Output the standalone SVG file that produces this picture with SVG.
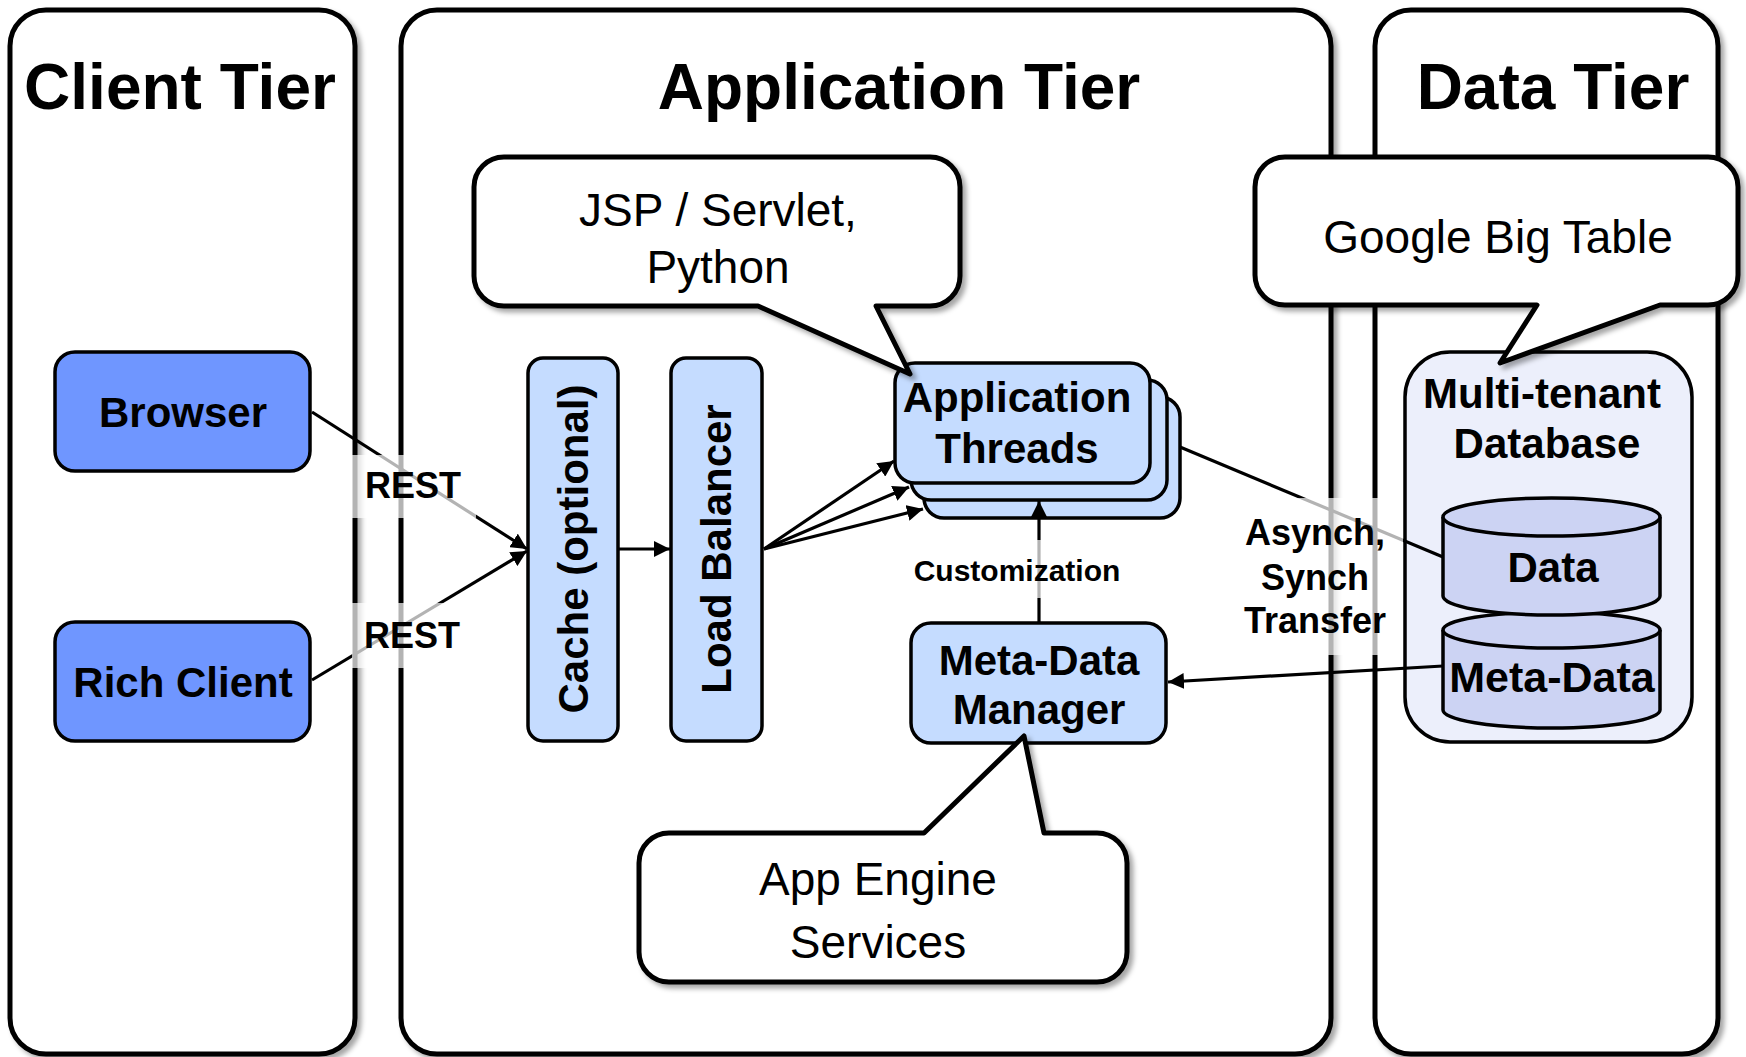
<svg xmlns="http://www.w3.org/2000/svg" width="1746" height="1057" viewBox="0 0 1746 1057">
<defs>
<filter id="sh" x="-10%" y="-10%" width="120%" height="120%">
<feDropShadow dx="4" dy="4" stdDeviation="2.5" flood-color="#000" flood-opacity="0.35"/>
</filter>
<marker id="ah" viewBox="0 0 10 10" refX="10" refY="5" markerWidth="5" markerHeight="5" orient="auto">
<path d="M0,0 L10,5 L0,10 z" fill="#000"/>
</marker>
<style>
.panel{fill:#fff;stroke:#000;stroke-width:5;filter:url(#sh)}
.callout{fill:#fff;stroke:#000;stroke-width:5;stroke-linejoin:round;filter:url(#sh)}
.node{stroke:#000;stroke-width:3.5}
.blue{fill:#6f96ff}
.lb{fill:#c5dcff}
.db{fill:#eceffb}
.cyl{fill:#ccd3f3;stroke:#000;stroke-width:3.5}
text{font-family:"Liberation Sans",Arial,sans-serif;fill:#000;text-anchor:middle}
.title{font-size:64px;font-weight:bold}
.nt{font-size:42px;font-weight:bold}
.ct{font-size:46px}
.lbl{font-size:36px;font-weight:bold}
.sm{font-size:30px;font-weight:bold}
.conn{stroke:#000;stroke-width:3.2;fill:none}
.lbg{fill:#fff;fill-opacity:0.7}
</style>
</defs>

<g id="client-tier">
<rect class="panel" x="10" y="10" width="345" height="1044" rx="36"/>
<text class="title" x="180" y="109">Client Tier</text>
</g>
<g id="application-tier">
<rect class="panel" x="401" y="10" width="930" height="1044" rx="36"/>
<text class="title" x="899" y="109">Application Tier</text>
</g>
<g id="data-tier">
<rect class="panel" x="1375" y="10" width="343" height="1044" rx="36"/>
<text class="title" x="1553" y="109">Data Tier</text>
</g>

<g id="browser">
<rect class="node blue" x="55" y="352" width="255" height="119" rx="20"/>
<text class="nt" x="183" y="427">Browser</text>
</g>
<g id="rich-client">
<rect class="node blue" x="55" y="622" width="255" height="119" rx="20"/>
<text class="nt" x="183" y="697">Rich Client</text>
</g>
<g id="cache">
<rect class="node lb" x="528" y="358" width="90" height="383" rx="15"/>
<text class="nt" transform="translate(588,549) rotate(-90)">Cache (optional)</text>
</g>
<g id="load-balancer">
<rect class="node lb" x="671" y="358" width="91" height="383" rx="15"/>
<text class="nt" transform="translate(731,549) rotate(-90)">Load Balancer</text>
</g>
<g id="application-threads">
<rect class="node lb" x="924" y="397" width="256" height="121" rx="20"/>
<rect class="node lb" x="911" y="380" width="256" height="120" rx="20"/>
<rect class="node lb" x="895" y="363" width="255" height="120" rx="20"/>
<text class="nt" x="1017" y="412">Application</text>
<text class="nt" x="1017" y="463">Threads</text>
</g>
<g id="meta-data-manager">
<rect class="node lb" x="911" y="623" width="255" height="120" rx="20"/>
<text class="nt" x="1039" y="675">Meta-Data</text>
<text class="nt" x="1039" y="724">Manager</text>
</g>
<g id="multi-tenant-database">
<rect class="node db" x="1405" y="352" width="287" height="390" rx="45"/>
<text class="nt" x="1542" y="408">Multi-tenant</text>
<text class="nt" x="1547" y="458">Database</text>
</g>
<g id="meta-data-store">
<path class="cyl" d="M1443 630 A108.5 18 0 0 1 1660 630 V710 A108.5 18 0 0 1 1443 710 Z"/>
<path class="cyl" fill="none" d="M1443 630 A108.5 18 0 0 0 1660 630"/>
<text class="nt" x="1552" y="692" style="font-size:43px">Meta-Data</text>
</g>
<g id="data-store">
<path class="cyl" d="M1443 517 A108.5 19 0 0 1 1660 517 V596 A108.5 19 0 0 1 1443 596 Z"/>
<path class="cyl" d="M1443 517 A108.5 19 0 0 0 1660 517"/>
<text class="nt" x="1553" y="582">Data</text>
</g>

<g id="connectors">
<line class="conn" x1="312" y1="412" x2="527" y2="549" marker-end="url(#ah)"/>
<line class="conn" x1="312" y1="680" x2="527" y2="551" marker-end="url(#ah)"/>
<line class="conn" x1="618" y1="549" x2="670" y2="549" marker-end="url(#ah)"/>
<line class="conn" x1="764" y1="549" x2="894" y2="461" marker-end="url(#ah)"/>
<line class="conn" x1="764" y1="549" x2="909" y2="487" marker-end="url(#ah)"/>
<line class="conn" x1="764" y1="549" x2="923" y2="509" marker-end="url(#ah)"/>
<line class="conn" x1="1039" y1="623" x2="1039" y2="501" marker-end="url(#ah)"/>
<line class="conn" x1="1180" y1="447" x2="1443" y2="557"/>
<line class="conn" x1="1443" y1="666" x2="1168" y2="682" marker-end="url(#ah)"/>
<rect class="lbg" x="352" y="455" width="124" height="63"/>
<text class="lbl" x="413" y="498">REST</text>
<rect class="lbg" x="352" y="603" width="124" height="65"/>
<text class="lbl" x="412" y="648">REST</text>
<rect class="lbg" x="900" y="540" width="234" height="58"/>
<text class="sm" x="1017" y="581">Customization</text>
<rect class="lbg" x="1227" y="498" width="176" height="157"/>
<text class="lbl" x="1315" y="545">Asynch,</text>
<text class="lbl" x="1315" y="590">Synch</text>
<text class="lbl" x="1315" y="633">Transfer</text>
</g>

<g id="callout-jsp">
<path class="callout" d="M504 157 H930 A30 30 0 0 1 960 187 V276 A30 30 0 0 1 930 306 H876 L910 374 L758 306 H504 A30 30 0 0 1 474 276 V187 A30 30 0 0 1 504 157 Z"/>
<text class="ct" x="718" y="226">JSP / Servlet,</text>
<text class="ct" x="718" y="283">Python</text>
</g>
<g id="callout-bigtable">
<path class="callout" d="M1285 157 H1708 A30 30 0 0 1 1738 187 V275 A30 30 0 0 1 1708 305 H1660 L1500 363 L1537 305 H1285 A30 30 0 0 1 1255 275 V187 A30 30 0 0 1 1285 157 Z"/>
<text class="ct" x="1498" y="253">Google Big Table</text>
</g>
<g id="callout-appengine">
<path class="callout" d="M669 833 H924 L1024 736 L1044 833 H1097 A30 30 0 0 1 1127 863 V952 A30 30 0 0 1 1097 982 H669 A30 30 0 0 1 639 952 V863 A30 30 0 0 1 669 833 Z"/>
<text class="ct" x="878" y="895">App Engine</text>
<text class="ct" x="878" y="958">Services</text>
</g>
</svg>
